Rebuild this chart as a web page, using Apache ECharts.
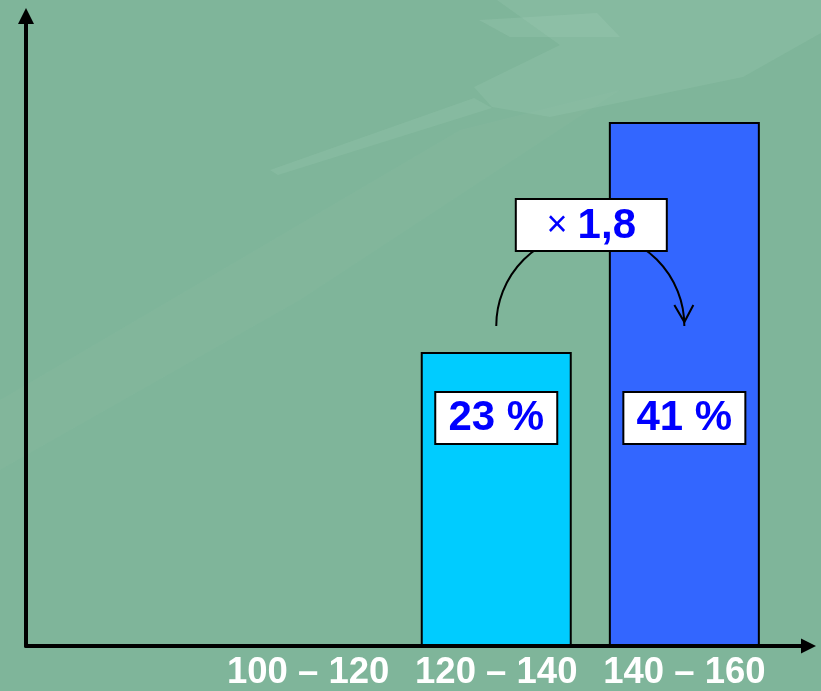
<!DOCTYPE html>
<html>
<head>
<meta charset="utf-8">
<script src="https://cdn.jsdelivr.net/npm/echarts@6/dist/echarts.min.js"></script>
<style>
  html, body { margin: 0; padding: 0; background: #7fb59a; }
  #chart { width: 821px; height: 691px; }
</style>
</head>
<body>
<div id="chart"></div>
<script>
// Height bins and the share of each bin, in percent
const binLabels = ['100 – 120', '120 – 140', '140 – 160'];
const binMids = [110, 130, 150];
const shares = [null, 23, 41];
const barColors = ['#00ccff', '#00ccff', '#3366ff'];

const FONT = '"Liberation Sans", Arial, Helvetica, sans-serif';
const BLUE = '#0000ff';

// Growth factor between the two filled bins, written with a decimal comma
const ratio = (shares[2] / shares[1]).toFixed(1).replace('.', ',');

const barData = [];
binMids.forEach((x, i) => {
  if (shares[i] != null) {
    barData.push({ value: [x, shares[i]], itemStyle: { color: barColors[i] } });
  }
});

const chart = echarts.init(document.getElementById('chart'), null, { renderer: 'canvas' });

chart.setOption({
  backgroundColor: '#7fb59a',
  animation: false,
  // faint lighter shapes of the backdrop
  graphic: [
    {
      type: 'polygon', silent: true, z: -10,
      shape: { points: [[497, 0], [821, 0], [821, 33], [743, 77], [550, 117], [492, 107], [474, 87], [560, 45]] },
      style: { fill: 'rgba(200,232,212,0.10)' }
    },
    {
      type: 'polygon', silent: true, z: -10,
      shape: { points: [[479, 20], [597, 13], [620, 37], [510, 37]] },
      style: { fill: 'rgba(200,232,212,0.12)' }
    },
    {
      type: 'polygon', silent: true, z: -10,
      shape: { points: [[270, 170], [474, 98], [492, 108], [278, 175]] },
      style: { fill: 'rgba(200,232,212,0.10)' }
    },
    {
      type: 'polygon', silent: true, z: -10,
      shape: { points: [[0, 400], [460, 130], [620, 90], [300, 300], [0, 470]] },
      style: { fill: 'rgba(200,232,212,0.04)' }
    }
  ],
  grid: { left: 26, right: 12.5, top: 16, bottom: 45, outerBoundsMode: 'none' },
  xAxis: {
    type: 'value',
    min: 80,
    max: 163.2,
    splitLine: { show: false },
    axisTick: { show: false },
    axisLine: {
      show: true,
      onZero: false,
      symbol: ['none', 'triangle'],
      symbolSize: [15, 15],
      lineStyle: { color: '#000', width: 4 }
    },
    axisLabel: {
      customValues: binMids,
      formatter: v => binLabels[binMids.indexOf(v)] || '',
      color: '#ffffff',
      fontFamily: FONT,
      fontWeight: 'bold',
      fontSize: 36.5,
      margin: 8
    }
  },
  yAxis: {
    type: 'value',
    min: 0,
    max: 49.3,
    splitLine: { show: false },
    axisTick: { show: false },
    axisLabel: { show: false },
    axisLine: {
      show: true,
      symbol: ['none', 'triangle'],
      symbolSize: [16, 16],
      lineStyle: { color: '#000', width: 4 }
    }
  },
  series: [
    {
      type: 'bar',
      data: barData,
      barWidth: 151,
      itemStyle: { borderColor: '#000', borderWidth: 2 },
      label: {
        show: true,
        position: 'insideBottom',
        distance: 203,
        formatter: p => p.value[1] + ' %',
        fontFamily: FONT,
        fontWeight: 'bold',
        fontSize: 42,
        color: BLUE,
        backgroundColor: '#ffffff',
        borderColor: '#000',
        borderWidth: 2,
        width: 120,
        height: 50,
        lineHeight: 50,
        align: 'center',
        padding: 0
      }
    },
    {
      // curved arrow from the 120–140 bar to the 140–160 bar with the growth factor
      type: 'custom',
      coordinateSystem: 'cartesian2d',
      z: 5,
      encode: { x: [0, 1], y: [2, 3] },
      data: [[binMids[1], binMids[2], shares[1], shares[2]]],
      renderItem: (params, api) => {
        const p1 = api.coord([api.value(0), api.value(2)]);
        const p2 = api.coord([api.value(1), api.value(3)]);
        const cx = (p1[0] + p2[0]) / 2;
        const r = (p2[0] - p1[0]) / 2;
        const baseY = p1[1] - 26;
        const tipX = cx + r;
        const boxW = 151, boxH = 52;
        const boxY = baseY - 127;
        return {
          type: 'group',
          children: [
            {
              type: 'arc',
              shape: { cx: cx, cy: baseY, r: r, startAngle: Math.PI, endAngle: Math.PI * 2, clockwise: true },
              style: { stroke: '#000', lineWidth: 2, fill: null }
            },
            {
              type: 'polyline',
              shape: { points: [[tipX - 10, baseY - 21], [tipX, baseY - 4], [tipX + 9, baseY - 21]] },
              style: { stroke: '#000', lineWidth: 2, fill: null }
            },
            {
              type: 'rect',
              shape: { x: cx + 1 - boxW / 2, y: boxY, width: boxW, height: boxH },
              style: { fill: '#ffffff', stroke: '#000', lineWidth: 2 }
            },
            {
              type: 'text',
              x: cx + 1,
              y: boxY + boxH / 2 + 1,
              style: {
                text: '{m|× }{n|' + ratio + '}',
                align: 'center',
                verticalAlign: 'middle',
                fill: BLUE,
                rich: {
                  m: { fontFamily: FONT, fontSize: 36, fill: BLUE },
                  n: { fontFamily: FONT, fontSize: 42, fontWeight: 'bold', fill: BLUE }
                }
              }
            }
          ]
        };
      }
    }
  ]
});
</script>
</body>
</html>
